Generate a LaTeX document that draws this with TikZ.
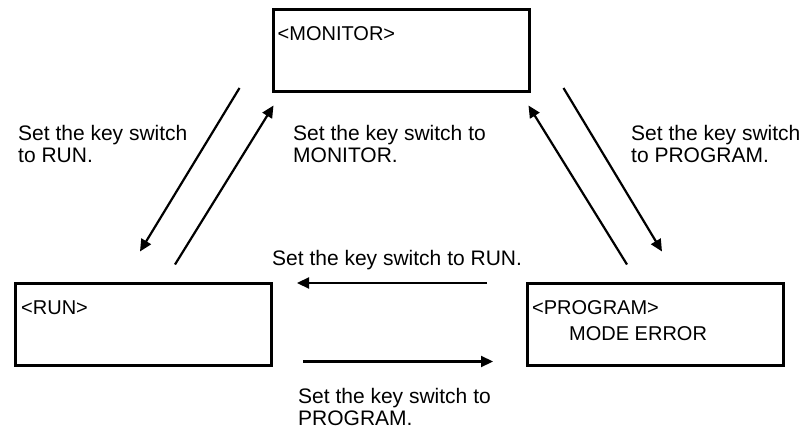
\documentclass[tikz,border=0pt]{standalone}
\usepackage{fontspec}
\setmainfont{Liberation Sans}
\usetikzlibrary{arrows.meta, positioning, calc}

\begin{document}
\begin{tikzpicture}[
    x=1pt, y=-1pt,
    every node/.style={font=\fontsize{21}{22}\selectfont},
    modebox/.style={rectangle, draw, line width=3pt, minimum width=256pt, minimum height=82pt, inner sep=0pt},
    lcd/.style={font=\fontsize{20}{26}\selectfont, anchor=north west, inner sep=0pt, align=left},
    note/.style={anchor=north west, inner sep=0pt, align=left},
    arr/.style={line width=2.2pt, -{Triangle[length=12pt, width=11pt]}},
]
\useasboundingbox (0,0) rectangle (807,431);

% Mode displays
\node[modebox] (monitor) at (401,50) {};
\node[modebox] (run) at (143.5,324) {};
\node[modebox] (program) at (655.5,324) {};

\node[lcd] (monitortext) at ([shift={(6,19)}]monitor.north west) {\textless MONITOR\textgreater};
\node[lcd] (runtext) at ([shift={(7,19)}]run.north west) {\textless RUN\textgreater};
\node[lcd] (programtext) at ([shift={(6,19)}]program.north west) {\textless PROGRAM\textgreater\\\hspace*{37pt}MODE ERROR};

% Transitions
\draw[arr] ([shift={(-32,-4.5)}]monitor.south west) -- ([shift={(126,-30)}]run.north west);
\draw[arr] ([shift={(161,-17)}]run.north west) -- ([shift={(2,13)}]monitor.south west);
\draw[arr] ([shift={(101,-17)}]program.north west) -- ([shift={(-2,13)}]monitor.south east);
\draw[arr] ([shift={(33,-4.5)}]monitor.south east) -- ([shift={(136,-30)}]program.north west);
\draw[arr] ([shift={(-39,1.5)}]program.north west) -- ([shift={(24,1.5)}]run.north east);
\draw[arr] ([shift={(30,-5)}]run.south east) -- ([shift={(-33,-5)}]program.south west);

% Labels
\node[note] (torun) at (18,125) {Set the key switch\\to RUN.};
\node[note] (tomonitor) at (293,125) {Set the key switch to\\MONITOR.};
\node[note] (toprogram) at (631,125) {Set the key switch\\to PROGRAM.};
\node[note] (backrun) at (272,250) {Set the key switch to RUN.};
\node[note] (backprogram) at (298,388) {Set the key switch to\\PROGRAM.};

\end{tikzpicture}
\end{document}
